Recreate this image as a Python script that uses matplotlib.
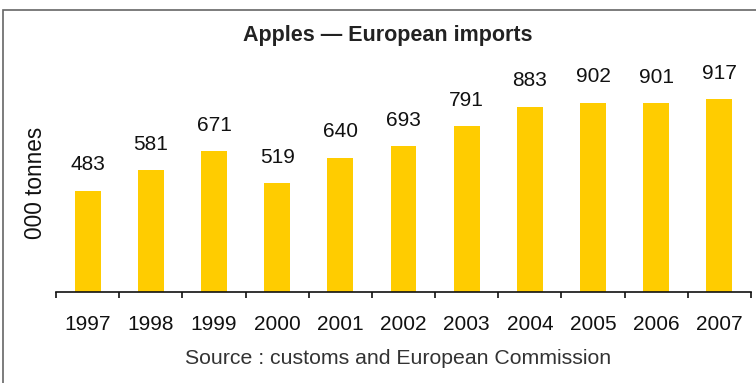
import matplotlib
matplotlib.use("Agg")
import matplotlib.pyplot as plt
from matplotlib.patches import Rectangle

plt.rcParams['font.family'] = ['Liberation Sans', 'DejaVu Sans']

years = ['1997', '1998', '1999', '2000', '2001', '2002', '2003', '2004', '2005', '2006', '2007']
imports = [483, 581, 671, 519, 640, 693, 791, 883, 902, 901, 917]

W, H = 756, 383
fig = plt.figure(figsize=(W / 100, H / 100), dpi=100)
fig.patch.set_facecolor('white')

# outer frame (top and left visible)
fig.patches.append(Rectangle((3 / W, -0.1), 1.2, (H - 10) / H + 0.1, transform=fig.transFigure,
                             fill=False, edgecolor='#666666', linewidth=1.2))

ax_left, ax_right = 56 / W, 751 / W
ax_bottom = 1 - 292 / H
ax_top = 1 - 40 / H
ax = fig.add_axes([ax_left, ax_bottom, ax_right - ax_left, ax_top - ax_bottom])

x = list(range(len(years)))
bars = ax.bar(x, imports, width=0.41, color='#FFCC00', zorder=2)
ax.set_xlim(-0.5, len(years) - 0.5)
ax.set_ylim(0, 1200)

for xi, v in zip(x, imports):
    ax.annotate(str(v), (xi, v), xytext=(0, 18.5), textcoords='offset points',
                ha='center', va='center', fontsize=15, color='#111111')

for s in ['top', 'right', 'left']:
    ax.spines[s].set_visible(False)
ax.spines['bottom'].set_color('#111111')
ax.spines['bottom'].set_linewidth(1.2)
ax.set_yticks([])
ax.set_xticks(x)
ax.set_xticklabels(years, fontsize=15, color='#111111')
ax.set_xticks([i - 0.5 for i in range(len(years) + 1)], minor=True)
ax.tick_params(axis='x', which='major', length=0, pad=16.5)
ax.tick_params(axis='x', which='minor', length=4.5, width=1.2, color='#111111')

fig.text(388 / W, 1 - 35 / H, 'Apples \u2014 European imports', ha='center', va='center',
         fontsize=15.5, fontweight='bold', color='#222222')
fig.text(35 / W, 1 - 183 / H, '000 tonnes', rotation=90, ha='center', va='center',
         fontsize=16.3, color='#111111')
fig.text(398 / W, 1 - 358 / H, 'Source : customs and European Commission', ha='center', va='center',
         fontsize=15.3, color='#333333')

fig.savefig('out.png', dpi=100)
